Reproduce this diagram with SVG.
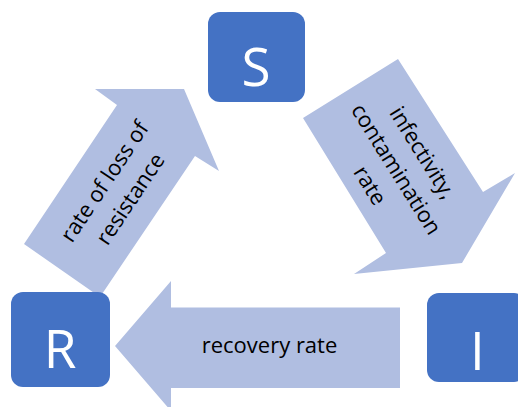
<svg xmlns="http://www.w3.org/2000/svg" width="518" height="407" viewBox="0 0 518 407">
  <style>
    .arrow { fill: #b0bee1; stroke: none; }
    .box { fill: #4472c4; stroke: none; }
    .letter { font-family: "Open Sans", "Liberation Sans", sans-serif; font-size: 53px; fill: #ffffff; text-anchor: middle; }
    .label { font-family: "Open Sans", "Liberation Sans", sans-serif; font-size: 22px; fill: #000000; text-anchor: middle; }
  </style>
  <rect x="0" y="0" width="518" height="407" fill="#ffffff"/>
  <g id="connectors">
    <g id="arrow-R-S">
      <polygon class="arrow" points="24,244 117,105 95,89 184,89 219,171 195,156 100,297"/>
      <g transform="translate(117,190) rotate(-56.2)">
        <text class="label" x="0" y="-7.5">rate of loss of</text>
        <text class="label" x="0" y="23.5">resistance</text>
      </g>
    </g>
    <g id="arrow-S-I">
      <polygon class="arrow" points="398,59 483,192 515,173 462,263 354,274 386,253 303,118"/>
      <g transform="translate(396.7,168.9) rotate(58.1)">
        <text class="label" x="0" y="-23">infectivity,</text>
        <text class="label" x="0" y="8">contamination</text>
        <text class="label" x="0" y="39">rate</text>
      </g>
    </g>
    <g id="arrow-I-R">
      <polygon class="arrow" points="400,307.5 171,307.5 171,281 115,346 171,411 171,388 400,388"/>
      <text class="label" x="269.5" y="353.3">recovery rate</text>
    </g>
  </g>
  <g id="node-S">
    <rect class="box" x="208" y="12" width="97" height="90" rx="12" ry="12"/>
    <text class="letter" x="256" y="85.5">S</text>
  </g>
  <g id="node-R">
    <rect class="box" x="11" y="292" width="99" height="95" rx="12" ry="12"/>
    <text class="letter" x="60" y="367.5">R</text>
  </g>
  <g id="node-I">
    <rect class="box" x="427" y="293" width="99" height="89" rx="12" ry="12"/>
    <text class="letter" x="477.5" y="369.5">I</text>
  </g>
</svg>
